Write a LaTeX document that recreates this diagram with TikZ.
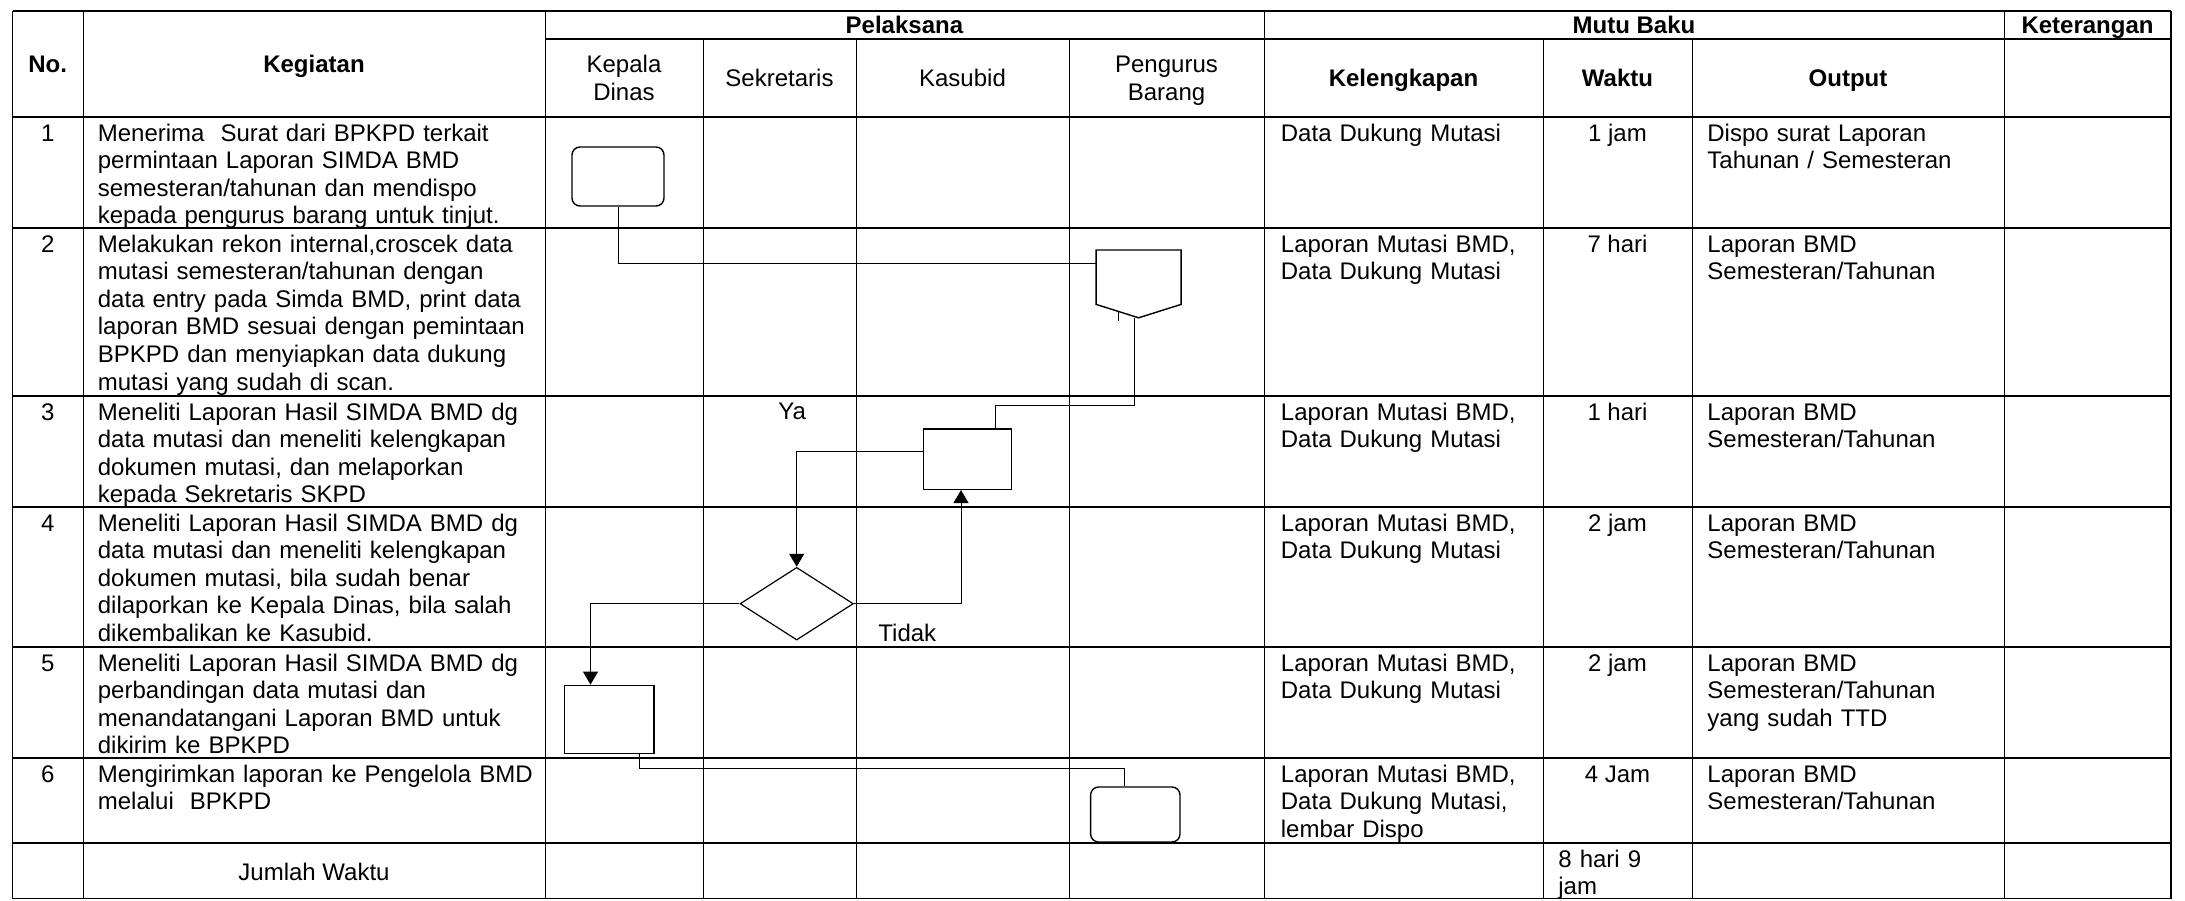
\documentclass[tikz,border=0pt]{standalone}
\usepackage{fontspec}
\setmainfont{Liberation Sans}
\usetikzlibrary{shapes.geometric,arrows.meta}

\tikzset{
  hline/.style={line width=0.85pt},
  vline/.style={line width=0.5pt},
  frameline/.style={line width=0.65pt},
  txt/.style={anchor=base west, align=left, text width=260pt},
  ctxt/.style={anchor=base, align=center},
  flowbox/.style={draw, line width=0.7pt, rectangle},
  termbox/.style={flowbox, rounded corners=4pt},
  decision/.style={draw, line width=0.6pt, diamond},
  link/.style={line width=0.5pt},
  arrowlink/.style={link, -{Triangle[length=6.5pt,width=7.5pt]}},
}

\begin{document}
\begin{tikzpicture}[x=0.5pt, y=-0.5pt, every node/.style={inner sep=0pt, font=\fontsize{12}{13.8}\selectfont}]
\useasboundingbox (0,0) rectangle (2185,900);

% table grid
\draw[hline] (12.5,11) -- (2171,11);
\draw[hline] (545,39) -- (2171,39);
\foreach \y in {117,228,396,507,647,758,843,898.5}
  \draw[hline] (12.5,\y) -- (2171,\y);
\foreach \x in {83,545,1264,2004}
  \draw[vline] (\x,11) -- (\x,898.5);
\foreach \x in {12.5,2171}
  \draw[frameline] (\x,11) -- (\x,898.5);
\foreach \x in {703,856,1069,1543,1692}
  \draw[vline] (\x,39) -- (\x,898.5);

% header
\node[ctxt] (hno) at (47.75,72.5) {\textbf{No.}};
\node[ctxt] (hkeg) at (314,72.5) {\textbf{Kegiatan}};
\node[ctxt] (hpel) at (904.5,33) {\textbf{Pelaksana}};
\node[ctxt] (hmutu) at (1634,33) {\textbf{Mutu Baku}};
\node[ctxt] (hket) at (2087.5,33) {\textbf{Keterangan}};
\node[ctxt, text width=75pt] (hkd) at (624,72.5) {Kepala\\Dinas};
\node[ctxt] (hsk) at (779.5,86.5) {Sekretaris};
\node[ctxt] (hks) at (962.5,86.5) {Kasubid};
\node[ctxt, text width=95pt] (hpb) at (1166.5,72.5) {Pengurus\\Barang};
\node[ctxt] (hkel) at (1403.5,86.5) {\textbf{Kelengkapan}};
\node[ctxt] (hwkt) at (1617.5,86.5) {\textbf{Waktu}};
\node[ctxt] (hout) at (1848,86.5) {\textbf{Output}};

% row 1
\node[ctxt] (no1) at (47.75,141) {1};
\node[txt] (keg1) at (97.5,141) {Menerima~ Surat dari BPKPD terkait\\permintaan Laporan SIMDA BMD\\semesteran/tahunan dan mendispo\\kepada pengurus barang untuk tinjut.};
\node[txt] (kel1) at (1280.5,141) {Data Dukung Mutasi};
\node[ctxt] (wkt1) at (1617.5,141) {1 jam};
\node[txt] (out1) at (1707,141) {Dispo surat Laporan\\Tahunan / Semesteran};

% row 2
\node[ctxt] (no2) at (47.75,252) {2};
\node[txt] (keg2) at (97.5,252) {Melakukan rekon internal,croscek data\\mutasi semesteran/tahunan dengan\\data entry pada Simda BMD, print data\\laporan BMD sesuai dengan pemintaan\\BPKPD dan menyiapkan data dukung\\mutasi yang sudah di scan.};
\node[txt] (kel2) at (1280.5,252) {Laporan Mutasi BMD,\\Data Dukung Mutasi};
\node[ctxt] (wkt2) at (1617.5,252) {7 hari};
\node[txt] (out2) at (1707,252) {Laporan BMD\\Semesteran/Tahunan};

% row 3
\node[ctxt] (no3) at (47.75,420) {3};
\node[txt] (keg3) at (97.5,420) {Meneliti Laporan Hasil SIMDA BMD dg\\data mutasi dan meneliti kelengkapan\\dokumen mutasi, dan melaporkan\\kepada Sekretaris SKPD};
\node[txt] (kel3) at (1280.5,420) {Laporan Mutasi BMD,\\Data Dukung Mutasi};
\node[ctxt] (wkt3) at (1617.5,420) {1 hari};
\node[txt] (out3) at (1707,420) {Laporan BMD\\Semesteran/Tahunan};

% row 4
\node[ctxt] (no4) at (47.75,531) {4};
\node[txt] (keg4) at (97.5,531) {Meneliti Laporan Hasil SIMDA BMD dg\\data mutasi dan meneliti kelengkapan\\dokumen mutasi, bila sudah benar\\dilaporkan ke Kepala Dinas, bila salah\\dikembalikan ke Kasubid.};
\node[txt] (kel4) at (1280.5,531) {Laporan Mutasi BMD,\\Data Dukung Mutasi};
\node[ctxt] (wkt4) at (1617.5,531) {2 jam};
\node[txt] (out4) at (1707,531) {Laporan BMD\\Semesteran/Tahunan};

% row 5
\node[ctxt] (no5) at (47.75,671) {5};
\node[txt] (keg5) at (97.5,671) {Meneliti Laporan Hasil SIMDA BMD dg\\perbandingan data mutasi dan\\menandatangani Laporan BMD untuk\\dikirim ke BPKPD};
\node[txt] (kel5) at (1280.5,671) {Laporan Mutasi BMD,\\Data Dukung Mutasi};
\node[ctxt] (wkt5) at (1617.5,671) {2 jam};
\node[txt] (out5) at (1707,671) {Laporan BMD\\Semesteran/Tahunan\\yang sudah TTD};

% row 6
\node[ctxt] (no6) at (47.75,782) {6};
\node[txt] (keg6) at (97.5,782) {Mengirimkan laporan ke Pengelola BMD\\melalui~ BPKPD};
\node[txt] (kel6) at (1280.5,782) {Laporan Mutasi BMD,\\Data Dukung Mutasi,\\lembar Dispo};
\node[ctxt] (wkt6) at (1617.5,782) {4 Jam};
\node[txt] (out6) at (1707,782) {Laporan BMD\\Semesteran/Tahunan};

% total
\node[ctxt] (jml) at (314,880) {Jumlah Waktu};
\node[txt] (wktjml) at (1558,867) {8 hari 9\\jam};

% flow symbols
\node[termbox, minimum width=46pt, minimum height=29.5pt] (kd1) at (618,176.5) {};
\node[minimum width=42.1pt, minimum height=33.5pt] (pb2) at (1138.6,283.9) {};
\draw[flowbox] (pb2.north west) -- (pb2.north east) -- ([yshift=6.7pt]pb2.south east) -- (pb2.south) -- ([yshift=6.7pt]pb2.south west) -- cycle;
\node[flowbox, minimum width=44.2pt, minimum height=30.15pt] (ks3) at (967.5,459.2) {};
\node[decision, minimum width=56.65pt, minimum height=36.35pt] (sk4) at (796.7,603.7) {};
\node[flowbox, minimum width=44.7pt, minimum height=34.2pt] (kd5) at (609.3,719.5) {};
\node[termbox, minimum width=44.7pt, minimum height=27.5pt] (pb6) at (1135.3,814.5) {};

\node[anchor=base west] (ya) at (778,419) {Ya};
\node[anchor=base west] (tidak) at (878,641) {Tidak};

% connectors
\draw[link] (kd1.south) |- ([yshift=-6.7pt]pb2.north west);
\draw[link] ([xshift=-2.1pt]pb2.south) -- ++(0,88) -| ([xshift=13.75pt]ks3.north);
\draw[link] (1118.8,311) -- (1118.8,320.7);
\draw[arrowlink] ([yshift=3.75pt]ks3.west) -| (sk4.north);
\draw[arrowlink] (sk4.east) -| ([xshift=-3.25pt]ks3.south);
\draw[arrowlink] (sk4.west) -| ([xshift=-9.4pt]kd5.north);
\draw[link] ([xshift=14.95pt]kd5.south) -- ++(0,13.6) -| ([xshift=-5.65pt]pb6.north);
\end{tikzpicture}
\end{document}
